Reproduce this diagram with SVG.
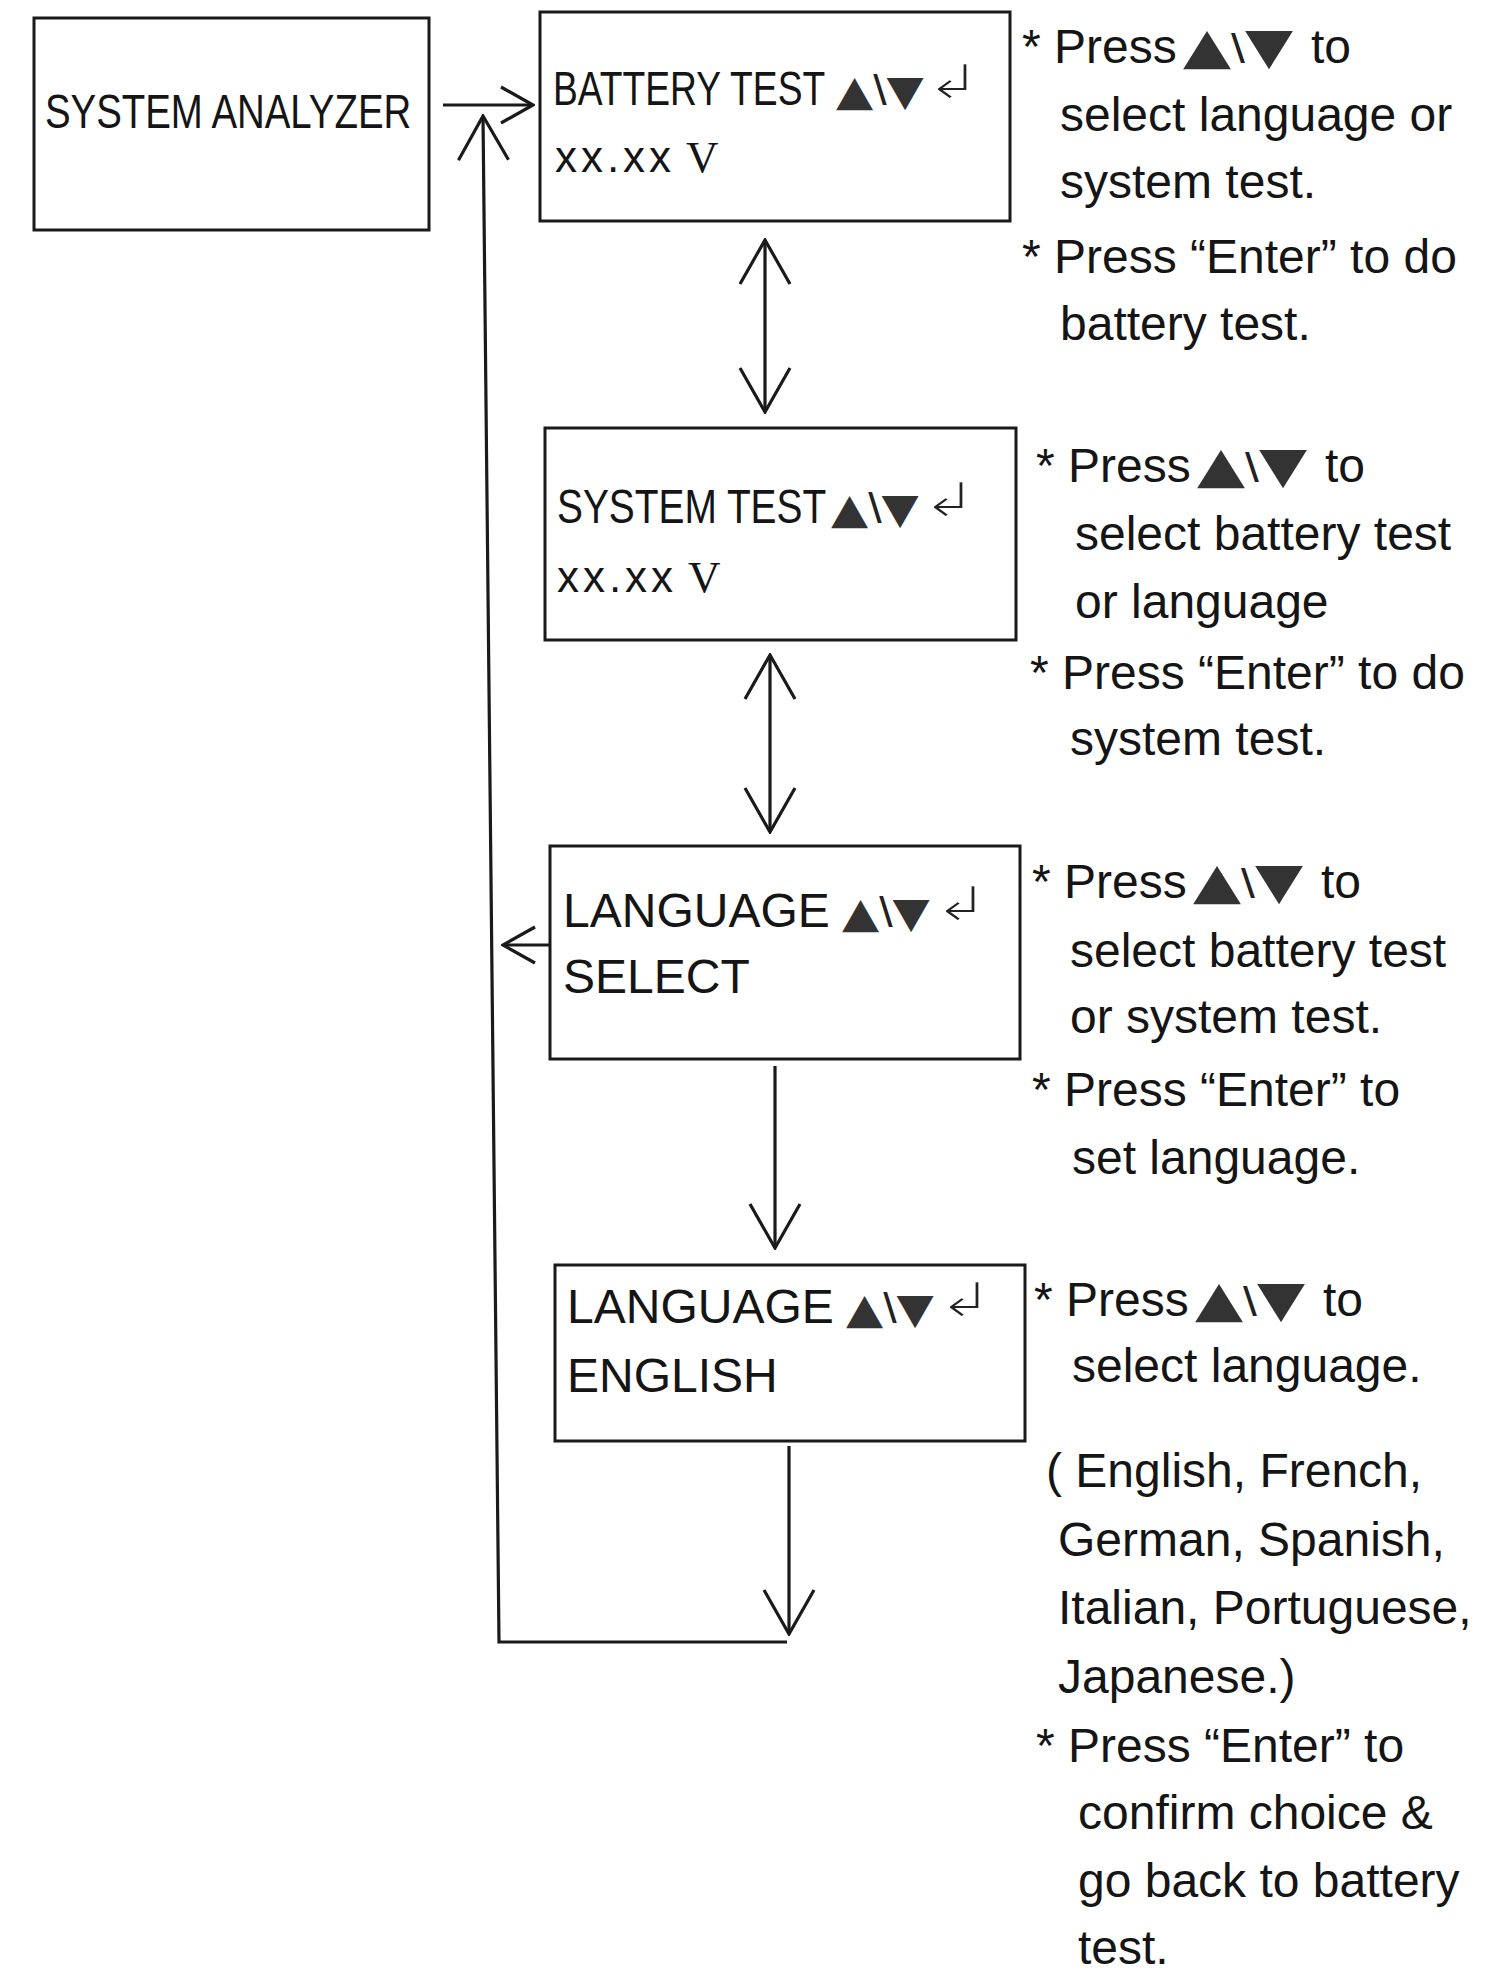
<svg xmlns="http://www.w3.org/2000/svg" width="1495" height="1974" viewBox="0 0 1495 1974">
<defs>
<style>
.box{fill:none;stroke:#1a1a1a;stroke-width:3}
.con{fill:none;stroke:#1a1a1a;stroke-width:3.2}
.lbl{font-family:"Liberation Sans",Arial,sans-serif;font-size:48px;fill:#151515}
.xx{font-family:"Liberation Sans",Arial,sans-serif;font-size:44px;fill:#151515}
.ser{font-family:"Liberation Serif","Times New Roman",serif;font-size:45px;fill:#151515}
.note{font-family:"Liberation Sans",Arial,sans-serif;font-size:48px;fill:#151515}
.tri{font-family:"DejaVu Sans",sans-serif;font-size:50px;fill:#333}
.btri{font-family:"DejaVu Sans",sans-serif;font-size:42px;fill:#333}
.bs{font-family:"Liberation Sans",Arial,sans-serif;font-size:42px;fill:#222}
.ns{font-family:"Liberation Sans",Arial,sans-serif;font-size:40px;fill:#222}
.ret{font-family:"DejaVu Sans",sans-serif;font-size:54px;fill:#222;stroke:#fff;stroke-width:2.2}
</style>
<marker id="big" viewBox="0 0 48 54" refX="46" refY="27" markerWidth="48" markerHeight="54" markerUnits="userSpaceOnUse" orient="auto-start-reverse">
<path d="M2,2 L46,27 L2,52" fill="none" stroke="#1a1a1a" stroke-width="3.2"/>
</marker>
<marker id="small" viewBox="0 0 36 40" refX="34" refY="20" markerWidth="36" markerHeight="40" markerUnits="userSpaceOnUse" orient="auto-start-reverse">
<path d="M2,2 L34,20 L2,38" fill="none" stroke="#1a1a1a" stroke-width="3.2"/>
</marker>
</defs>
<rect width="1495" height="1974" fill="#fff"/>

<g id="connectors">
<path class="con" d="M443,105 L533,105" marker-end="url(#small)"/>
<path class="con" d="M765,240 L765,412" marker-start="url(#big)" marker-end="url(#big)"/>
<path class="con" d="M770,655 L770,832" marker-start="url(#big)" marker-end="url(#big)"/>
<path class="con" d="M775,1066 L775,1248" marker-end="url(#big)"/>
<path class="con" d="M789,1446 L789,1634" marker-end="url(#big)"/>
<path class="con" d="M787,1642 L499,1642 L483,116" marker-end="url(#big)" stroke-width="3.6"/>
<path class="con" d="M550,945 L503,945" marker-end="url(#small)"/>
</g>

<g id="node-system-analyzer">
<rect class="box" x="34" y="18" width="395" height="212"/>
<text class="lbl" transform="translate(45,128) scale(0.80,1)">SYSTEM ANALYZER</text>
</g>

<g id="node-battery-test">
<rect class="box" x="540" y="12" width="470" height="209"/>
<text class="lbl" transform="translate(553,105) scale(0.775,1)">BATTERY TEST</text>
<text transform="translate(836,105) scale(1.15,1)"><tspan class="btri">▲</tspan><tspan class="bs">\</tspan><tspan class="btri">▼</tspan></text>
<text class="ret" transform="translate(925,99) scale(1.25,0.9)">↲</text>
<text y="172"><tspan class="xx" x="555" textLength="116" lengthAdjust="spacing">xx.xx</tspan><tspan class="ser" x="686">V</tspan></text>
</g>

<g id="node-system-test">
<rect class="box" x="545" y="428" width="471" height="212"/>
<text class="lbl" transform="translate(557,523) scale(0.81,1)">SYSTEM TEST</text>
<text transform="translate(831,523) scale(1.15,1)"><tspan class="btri">▲</tspan><tspan class="bs">\</tspan><tspan class="btri">▼</tspan></text>
<text class="ret" transform="translate(921,517) scale(1.25,0.9)">↲</text>
<text y="592"><tspan class="xx" x="557" textLength="116" lengthAdjust="spacing">xx.xx</tspan><tspan class="ser" x="688">V</tspan></text>
</g>

<g id="node-language-select">
<rect class="box" x="550" y="846" width="470" height="213"/>
<text class="lbl" x="563" y="927">LANGUAGE</text>
<text transform="translate(842,927) scale(1.15,1)"><tspan class="btri">▲</tspan><tspan class="bs">\</tspan><tspan class="btri">▼</tspan></text>
<text class="ret" transform="translate(933,921) scale(1.25,0.9)">↲</text>
<text class="lbl" x="563" y="993">SELECT</text>
</g>

<g id="node-language-english">
<rect class="box" x="555" y="1265" width="470" height="176"/>
<text class="lbl" x="567" y="1323">LANGUAGE</text>
<text transform="translate(846,1323) scale(1.15,1)"><tspan class="btri">▲</tspan><tspan class="bs">\</tspan><tspan class="btri">▼</tspan></text>
<text class="ret" transform="translate(937,1317) scale(1.25,0.9)">↲</text>
<text class="lbl" x="567" y="1392">ENGLISH</text>
</g>

<g id="notes-battery">
<text class="note" x="1022" y="63">* Press</text>
<text transform="translate(1183,63) scale(1.25,1)"><tspan class="tri">▲</tspan><tspan class="ns">\</tspan><tspan class="tri">▼</tspan></text>
<text class="note" x="1311" y="63">to</text>
<text class="note" x="1060" y="131">select language or</text>
<text class="note" x="1060" y="198">system test.</text>
<text class="note" x="1022" y="273">* Press “Enter” to do</text>
<text class="note" x="1060" y="340">battery test.</text>
</g>

<g id="notes-system">
<text class="note" x="1036" y="482">* Press</text>
<text transform="translate(1197,482) scale(1.25,1)"><tspan class="tri">▲</tspan><tspan class="ns">\</tspan><tspan class="tri">▼</tspan></text>
<text class="note" x="1325" y="482">to</text>
<text class="note" x="1075" y="550">select battery test</text>
<text class="note" x="1075" y="618">or language</text>
<text class="note" x="1030" y="689">* Press “Enter” to do</text>
<text class="note" x="1070" y="755">system test.</text>
</g>

<g id="notes-language-select">
<text class="note" x="1032" y="898">* Press</text>
<text transform="translate(1193,898) scale(1.25,1)"><tspan class="tri">▲</tspan><tspan class="ns">\</tspan><tspan class="tri">▼</tspan></text>
<text class="note" x="1321" y="898">to</text>
<text class="note" x="1070" y="967">select battery test</text>
<text class="note" x="1070" y="1033">or system test.</text>
<text class="note" x="1032" y="1106">* Press “Enter” to</text>
<text class="note" x="1072" y="1174">set language.</text>
</g>

<g id="notes-language-english">
<text class="note" x="1034" y="1316">* Press</text>
<text transform="translate(1195,1316) scale(1.25,1)"><tspan class="tri">▲</tspan><tspan class="ns">\</tspan><tspan class="tri">▼</tspan></text>
<text class="note" x="1323" y="1316">to</text>
<text class="note" x="1072" y="1382">select language.</text>
<text class="note" x="1046" y="1487">( English, French,</text>
<text class="note" x="1058" y="1556">German, Spanish,</text>
<text class="note" x="1058" y="1624">Italian, Portuguese,</text>
<text class="note" x="1058" y="1693">Japanese.)</text>
<text class="note" x="1036" y="1762">* Press “Enter” to</text>
<text class="note" x="1078" y="1829">confirm choice &amp;</text>
<text class="note" x="1078" y="1897">go back to battery</text>
<text class="note" x="1078" y="1964">test.</text>
</g>
</svg>
